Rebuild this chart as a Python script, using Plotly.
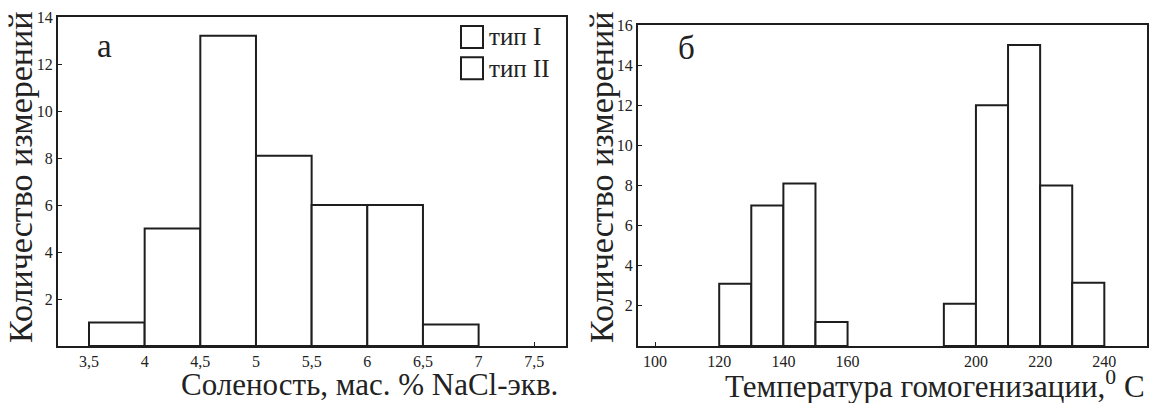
import plotly.graph_objects as go

# ---- data ----
sal_left = [3.5, 4.0, 4.5, 5.0, 5.5, 6.0, 6.5]
sal_counts = [1, 5, 13.2, 8.1, 6, 6, 0.92]
sal_width = 0.5
sal_ticks = [3.5, 4, 4.5, 5, 5.5, 6, 6.5, 7, 7.5]
sal_ticktext = ["3,5", "4", "4,5", "5", "5,5", "6", "6,5", "7", "7,5"]

tmp_left = [120, 130, 140, 150, 190, 200, 210, 220, 230]
tmp_counts = [3.1, 7, 8.1, 1.2, 2.1, 12, 15, 8, 3.15]
tmp_width = 10
tmp_ticks = [100, 120, 140, 160, 200, 220, 240]

ya_ticks = [2, 4, 6, 8, 10, 12, 14]
yb_ticks = [2, 4, 6, 8, 10, 12, 14, 16]

legend_labels = ["тип I", "тип II"]

FONT = "Liberation Serif"
INK = "#1e1e1e"
TXT = "#222222"

fig = go.Figure()
fig.add_trace(go.Bar(x=sal_left, y=sal_counts, width=[sal_width]*len(sal_left), offset=0,
                     marker=dict(color="white", line=dict(color=INK, width=2)),
                     xaxis="x", yaxis="y", showlegend=False))
fig.add_trace(go.Bar(x=tmp_left, y=tmp_counts, width=[tmp_width]*len(tmp_left), offset=0,
                     marker=dict(color="white", line=dict(color=INK, width=2)),
                     xaxis="x2", yaxis="y2", showlegend=False))

W, H = 1155, 403
def px(x):
    return x / W
def py(y):
    return 1 - y / H

def axis_common():
    return dict(showline=True, linecolor=INK, linewidth=2, mirror=True,
                showgrid=False, zeroline=False, ticks="inside", ticklen=4,
                tickcolor=INK, tickwidth=1, automargin=False,
                tickfont=dict(family=FONT, size=16, color=TXT))

fig.update_layout(
    width=W, height=H, autosize=False,
    font=dict(family=FONT, color=TXT),
    margin=dict(l=0, r=0, t=0, b=0, pad=0),
    paper_bgcolor="white", plot_bgcolor="white",
    barmode="overlay",
    xaxis=dict(domain=[px(58), px(566)], range=[3.2215, 7.785],
               tickvals=sal_ticks, ticktext=sal_ticktext, anchor="y", **axis_common()),
    yaxis=dict(domain=[py(346), py(17)], range=[0, 14], tickvals=ya_ticks,
               anchor="x", **axis_common()),
    xaxis2=dict(domain=[px(638), px(1147)], range=[94.7, 253.3],
                tickvals=tmp_ticks, anchor="y2", **axis_common()),
    yaxis2=dict(domain=[py(346), py(25)], range=[0, 16], tickvals=yb_ticks,
                anchor="x2", **axis_common()),
)

ann = []
# axis titles
for xc in (21, 602):
    ann.append(dict(text="Количество измерений", x=px(xc), y=py(178), xref="paper", yref="paper",
                    textangle=-90, xanchor="center", yanchor="middle", showarrow=False,
                    font=dict(family=FONT, size=34, color=TXT)))
ann.append(dict(text="Соленость, мас. % NaCl-экв.", x=px(560), y=py(384), xref="paper", yref="paper",
                xanchor="right", yanchor="middle", showarrow=False,
                font=dict(family=FONT, size=31, color=TXT)))
ann.append(dict(text="Температура гомогенизации,<sup>0</sup> С", x=px(1147), y=py(384), xref="paper", yref="paper",
                xanchor="right", yanchor="middle", showarrow=False,
                font=dict(family=FONT, size=31, color=TXT)))
# panel letters
ann.append(dict(text="а", x=px(104), y=py(46), xref="paper", yref="paper", showarrow=False,
                xanchor="center", yanchor="middle", font=dict(family=FONT, size=33, color=TXT)))
ann.append(dict(text="б", x=px(686), y=py(48), xref="paper", yref="paper", showarrow=False,
                xanchor="center", yanchor="middle", font=dict(family=FONT, size=33, color=TXT)))

# legend (drawn)
shapes = []
for i, lab in enumerate(legend_labels):
    y0 = 26 + i * 31.3
    shapes.append(dict(type="rect", xref="paper", yref="paper",
                       x0=px(461), x1=px(483), y0=py(y0 + 22), y1=py(y0),
                       line=dict(color=INK, width=2), fillcolor="white"))
    ann.append(dict(text=lab, x=px(487), y=py(y0 + 11), xref="paper", yref="paper",
                    xanchor="left", yanchor="middle", showarrow=False,
                    font=dict(family=FONT, size=25, color=TXT)))

fig.update_layout(annotations=ann, shapes=shapes)
fig.write_html("out.html", config={"displayModeBar": False},
               post_script="document.body.style.margin='0';document.body.style.overflow='hidden';")
